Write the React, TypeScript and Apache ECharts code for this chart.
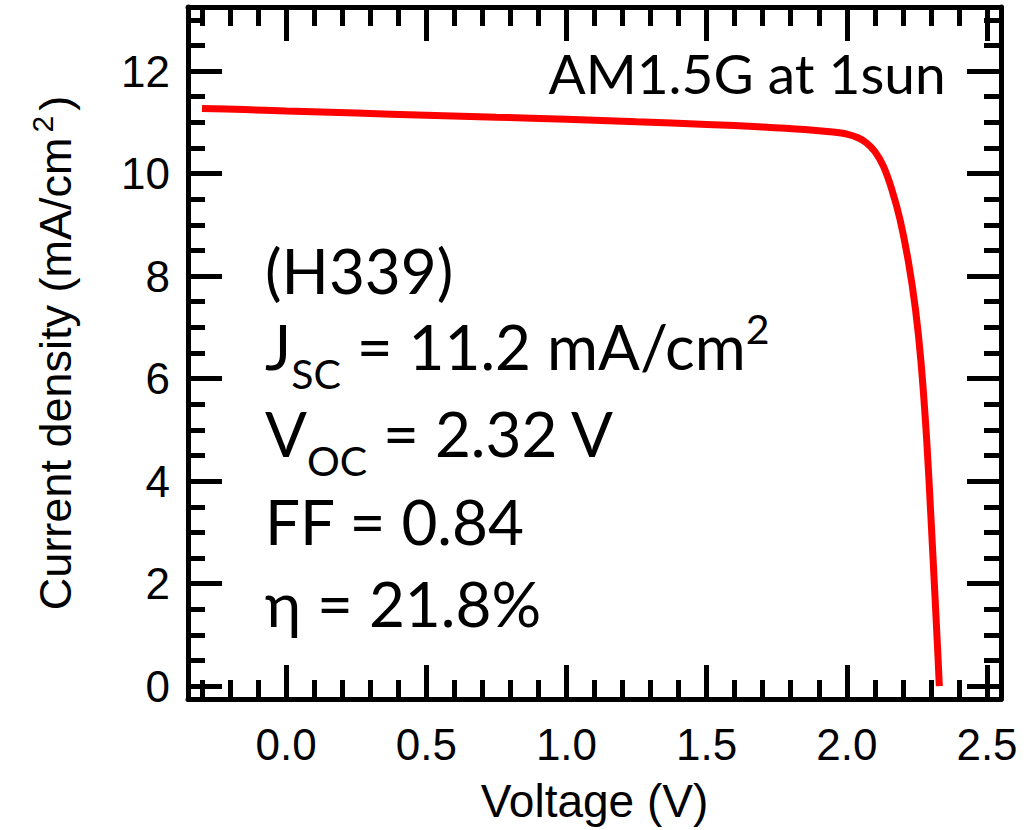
import React, { useEffect, useRef } from "react";
import * as echarts from "echarts";

// ---- data ----
const voltage = [-0.30, -0.15, 0.0, 0.25, 0.5, 0.75, 1.0, 1.25, 1.5, 1.7, 1.85, 1.95, 2.0, 2.04, 2.07, 2.1, 2.13, 2.16, 2.19, 2.22, 2.245, 2.265, 2.285, 2.30, 2.315, 2.325, 2.33];
const currentDensity = [11.27, 11.25, 11.22, 11.18, 11.14, 11.10, 11.06, 11.01, 10.96, 10.91, 10.86, 10.81, 10.77, 10.70, 10.60, 10.43, 10.15, 9.70, 9.10, 8.27, 7.35, 6.3, 4.8, 3.3, 1.7, 0.6, 0.0];

const xRange = [-0.35, 2.55];
const yRange = [-0.25, 13.25];
const xTickStep = 0.5;
const yTickStep = 2;

const xAxisTitle = "Voltage (V)";
const conditionText = "AM1.5G at 1sun";
type Seg = { t: string; k?: "sub" | "sup" };
const infoLines: Seg[][] = [
  [{ t: "(H339)" }],
  [{ t: "J" }, { t: "SC", k: "sub" }, { t: " = 11.2 mA/cm" }, { t: "2", k: "sup" }],
  [{ t: "V" }, { t: "OC", k: "sub" }, { t: " = 2.32 V" }],
  [{ t: "FF = 0.84" }],
  [{ t: "\u03B7 = 21.8%" }],
];

const ANN_FONT = "Lato";
const AX_FONT = "'Liberation Sans', Arial, sans-serif";

function measure(text: string, size: number, family: string) {
  const c = document.createElement("canvas").getContext("2d")!;
  c.font = `${size}px ${family}`;
  return c.measureText(text).width;
}

export default function App() {
  const ref = useRef<HTMLDivElement>(null);
  useEffect(() => {
    if (!ref.current) return;
    const chart = echarts.init(ref.current, null, { renderer: "svg" });

    const black = "#000";
    const axisCommon = (isX: boolean) => ({
      type: "value" as const,
      min: isX ? xRange[0] : yRange[0],
      max: isX ? xRange[1] : yRange[1],
      minInterval: isX ? xTickStep : yTickStep,
      maxInterval: isX ? xTickStep : yTickStep,
      splitNumber: isX ? 6 : 7,
      axisLine: { show: true, onZero: false, lineStyle: { color: black, width: 5 } },
      axisTick: { show: true, inside: true, length: 34, lineStyle: { color: black, width: 5 } },
      minorTick: { show: true, splitNumber: isX ? 5 : 4, length: isX ? 19 : 17, lineStyle: { color: black, width: 5 } },
      splitLine: { show: false },
      minorSplitLine: { show: false },
    });

    const xFmt = (v: number) => (Math.abs(v / xTickStep - Math.round(v / xTickStep)) < 1e-6 ? v.toFixed(1) : "");
    const yFmt = (v: number) => (Math.abs(v / yTickStep - Math.round(v / yTickStep)) < 1e-6 ? String(Math.round(v)) : "");

    // annotation texts
    const graphics: any[] = [];
    const mainSize = 62;
    const subSize = 41;
    const baselines = [292, 368, 455, 543, 625];
    const x0 = 265;
    infoLines.forEach((line, i) => {
      let x = x0;
      const base = baselines[i];
      line.forEach((seg) => {
        const size = seg.k ? subSize : mainSize;
        let b = base;
        if (seg.k === "sub") b = base + 20;
        if (seg.k === "sup") b = base - 25;
        graphics.push({
          type: "text",
          x,
          y: b - 0.36 * size,
          style: {
            text: seg.t,
            font: `${size}px ${ANN_FONT}`,
            fill: "#000",
            align: "left",
            verticalAlign: "middle",
            textAlign: "left",
            textVerticalAlign: "middle",
          },
        });
        x += measure(seg.t, size, ANN_FONT);
      });
    });
    graphics.push({
      type: "text",
      x: 747,
      y: 93 - 0.36 * 55,
      style: {
        text: conditionText,
        font: `55px ${ANN_FONT}`,
        fill: "#000",
        align: "center",
        verticalAlign: "middle",
        textAlign: "center",
        textVerticalAlign: "middle",
      },
    });

    chart.setOption({
      animation: false,
      backgroundColor: "#fff",
      grid: { left: 188, right: 29, top: 7, bottom: 131, containLabel: false },
      xAxis: [
        {
          ...axisCommon(true),
          position: "bottom",
          axisLabel: { show: true, formatter: xFmt, fontSize: 44, color: black, margin: 23, fontFamily: AX_FONT },
          name: xAxisTitle,
          nameLocation: "middle",
          nameGap: 79,
          nameTextStyle: { fontSize: 46, color: black, fontFamily: AX_FONT },
        },
        {
          ...axisCommon(true),
          position: "top",
          axisLabel: { show: false },
        },
      ],
      yAxis: [
        {
          ...axisCommon(false),
          position: "left",
          axisLabel: { show: true, formatter: yFmt, fontSize: 44, color: black, margin: 18, fontFamily: AX_FONT },
          name: "{a|Current density (mA/cm}{s|2}{a|)}",
          nameLocation: "middle",
          nameGap: 104,
          nameTextStyle: {
            color: black,
            rich: {
              a: { fontSize: 45, color: black, fontFamily: AX_FONT },
              s: { fontSize: 30, color: black, fontFamily: AX_FONT, padding: [0, 5, 27, 5] },
            },
          },
        },
        {
          ...axisCommon(false),
          position: "right",
          axisLabel: { show: false },
        },
      ],
      series: [
        {
          type: "line",
          data: voltage.map((v, i) => [v, currentDensity[i]]),
          showSymbol: false,
          smooth: 0.3,
          lineStyle: { color: "#ff0000", width: 7 },
          itemStyle: { color: "#ff0000" },
          xAxisIndex: 0,
          yAxisIndex: 0,
        },
      ],
      graphic: graphics,
    });

    return () => chart.dispose();
  }, []);

  return (
    <div
      ref={ref}
      style={{ position: "absolute", left: 0, top: 0, width: 1030, height: 830, background: "#fff" }}
    />
  );
}
